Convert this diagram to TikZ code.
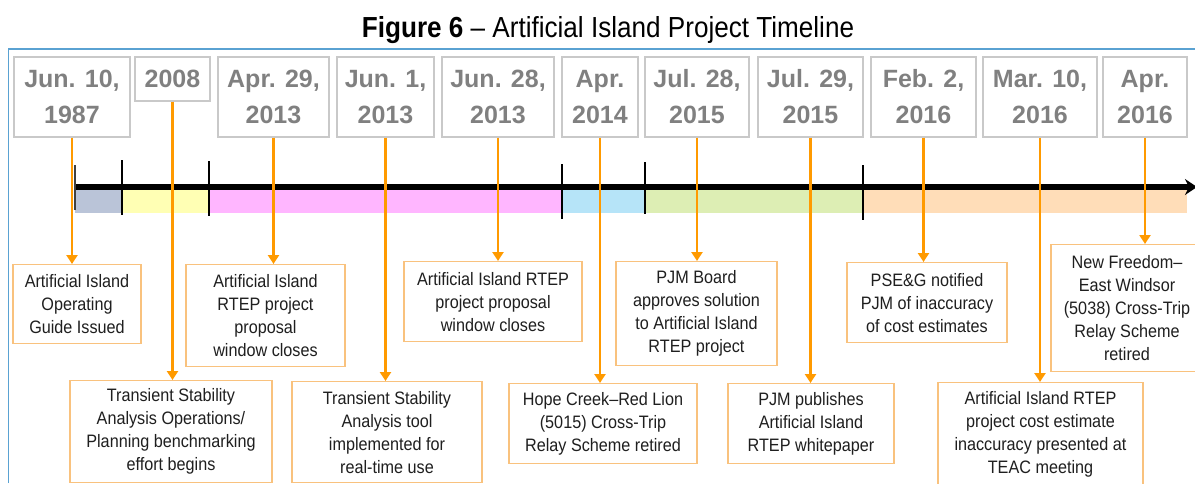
\documentclass[tikz,border=0pt]{standalone}
\usepackage{fontspec}
\setmainfont{Liberation Sans}
\newfontfamily\narrowfont{Liberation Sans}[FakeStretch=0.9]
\usetikzlibrary{arrows.meta}

\definecolor{tlorange}{HTML}{FF9A00}
\definecolor{boxorange}{HTML}{F9C27E}
\definecolor{dategray}{HTML}{808080}
\definecolor{dateline}{HTML}{C9C9C9}
\definecolor{frameblue}{HTML}{5AA2D2}
\definecolor{bandA}{HTML}{BAC4D8}
\definecolor{bandB}{HTML}{FFFFB4}
\definecolor{bandC}{HTML}{FFB6FF}
\definecolor{bandD}{HTML}{B6E4F8}
\definecolor{bandE}{HTML}{DDEEB4}
\definecolor{bandF}{HTML}{FFDDB8}

\tikzset{
  datebox/.style={draw=dateline, line width=1.2pt, text=dategray, align=center,
    inner sep=0pt, font=\bfseries\fontsize{25}{36}\selectfont},
  eventbox/.style={draw=boxorange, line width=1.4pt, fill=white, text=black!88,
    align=center, inner sep=0pt, anchor=north,
    font=\narrowfont\fontsize{18}{23}\selectfont},
  tlarrow/.style={draw=tlorange, line width=2.4pt,
    -{Triangle[width=11pt,length=9pt]}},
  tick/.style={line width=2.6pt, black},
}

\begin{document}
\begin{tikzpicture}[x=1pt,y=-1pt]
			%%%%% START %%%%%
			\useasboundingbox (0,0) rectangle (1195,483);

			\node (title) at (608,30) {\narrowfont\fontsize{29}{32}\selectfont\textbf{Figure 6} – Artificial Island Project Timeline};

			\draw[frameblue, line width=1.5pt] (8.5,483) -- (8.5,49) -- (1195,49);

			% coloured periods under the axis
			\fill[bandA] (75,190) rectangle (122,213);
			\fill[bandB] (122,190) rectangle (209,213);
			\fill[bandC] (209,190) rectangle (562,213);
			\fill[bandD] (562,190) rectangle (645,213);
			\fill[bandE] (645,190) rectangle (863,213);
			\fill[bandF] (863,190) rectangle (1187,213);

			\coordinate (tstart) at (75,187);
			\coordinate (tend) at (1197,187);
			\draw[line width=5.5pt, -{Stealth[length=12pt,width=16pt]}] (tstart) -- (tend);

			\draw[line width=2.2pt, black!75] (75,165) -- (75,210);
			\draw[tick] (122,160) -- (122,215);
			\draw[tick] (209,161) -- (209,216);
			\draw[tick] (562,164) -- (562,219);
			\draw[tick] (645,162) -- (645,214);
			\draw[tick] (863,165) -- (863,220);

			% dates
			\node[datebox, minimum width=116pt, minimum height=80pt] (d1) at (72,97) {Jun. 10,\\1987};
			\node[datebox, minimum width=75pt, minimum height=44pt] (d2) at (172.5,79) {2008};
			\node[datebox, minimum width=111pt, minimum height=80pt] (d3) at (273.5,97) {Apr. 29,\\2013};
			\node[datebox, minimum width=97pt, minimum height=80pt] (d4) at (385.5,97) {Jun. 1,\\2013};
			\node[datebox, minimum width=112pt, minimum height=80pt] (d5) at (498,97) {Jun. 28,\\2013};
			\node[datebox, minimum width=76pt, minimum height=80pt] (d6) at (600,97) {Apr.\\2014};
			\node[datebox, minimum width=104pt, minimum height=80pt] (d7) at (697,97) {Jul. 28,\\2015};
			\node[datebox, minimum width=105pt, minimum height=80pt] (d8) at (810.5,97) {Jul. 29,\\2015};
			\node[datebox, minimum width=105pt, minimum height=80pt] (d9) at (923.5,97) {Feb. 2,\\2016};
			\node[datebox, minimum width=114pt, minimum height=80pt] (d10) at (1040,97) {Mar. 10,\\2016};
			\node[datebox, minimum width=84pt, minimum height=80pt] (d11) at (1145,97) {Apr.\\2016};

			% events
			\node[eventbox, minimum width=128pt, minimum height=79pt] (e1) at (77,264) {Artificial Island\\Operating\\Guide Issued};
			\node[eventbox, minimum width=202pt, minimum height=102pt] (e2) at (171,380) {Transient Stability\\Analysis Operations/\\Planning benchmarking\\effort begins};
			\node[eventbox, minimum width=159pt, minimum height=102pt] (e3) at (265.5,264) {Artificial Island\\RTEP project\\proposal\\window closes};
			\node[eventbox, minimum width=190pt, minimum height=101pt] (e4) at (387,381) {Transient Stability\\Analysis tool\\implemented for\\real-time use};
			\node[eventbox, minimum width=178pt, minimum height=80pt] (e5) at (493,261) {Artificial Island RTEP\\project proposal\\window closes};
			\node[eventbox, minimum width=188pt, minimum height=80pt] (e6) at (603,383) {Hope Creek–Red Lion\\(5015) Cross-Trip\\Relay Scheme retired};
			\node[eventbox, minimum width=161pt, minimum height=104pt] (e7) at (696.5,261) {PJM Board\\approves solution\\to Artificial Island\\RTEP project};
			\node[eventbox, minimum width=166pt, minimum height=80pt] (e8) at (811,383) {PJM publishes\\Artificial Island\\RTEP whitepaper};
			\node[eventbox, minimum width=160pt, minimum height=80pt] (e9) at (927,262) {PSE\&G notified\\PJM of inaccuracy\\of cost estimates};
			\node[eventbox, minimum width=205pt, minimum height=104pt] (e10) at (1040.5,382) {Artificial Island RTEP\\project cost estimate\\inaccuracy presented at\\TEAC meeting};
			\node[eventbox, minimum width=152pt, minimum height=127pt] (e11) at (1127,244) {New Freedom–\\East Windsor\\(5038) Cross-Trip\\Relay Scheme\\retired};

			% date to event arrows
			\draw[tlarrow] (d1.south) -- (d1.south |- e1.north);
			\draw[tlarrow] (d2.south) -- (d2.south |- e2.north);
			\draw[tlarrow] (d3.south) -- (d3.south |- e3.north);
			\draw[tlarrow] (d4.south) -- (d4.south |- e4.north);
			\draw[tlarrow] (d5.south) -- (d5.south |- e5.north);
			\draw[tlarrow] (d6.south) -- (d6.south |- e6.north);
			\draw[tlarrow] (d7.south) -- (d7.south |- e7.north);
			\draw[tlarrow] (d8.south) -- (d8.south |- e8.north);
			\draw[tlarrow] (d9.south) -- (d9.south |- e9.north);
			\draw[tlarrow] (d10.south) -- (d10.south |- e10.north);
			\draw[tlarrow] (d11.south) -- (d11.south |- e11.north);
			%%%%% END %%%%%
\end{tikzpicture}
\end{document}
